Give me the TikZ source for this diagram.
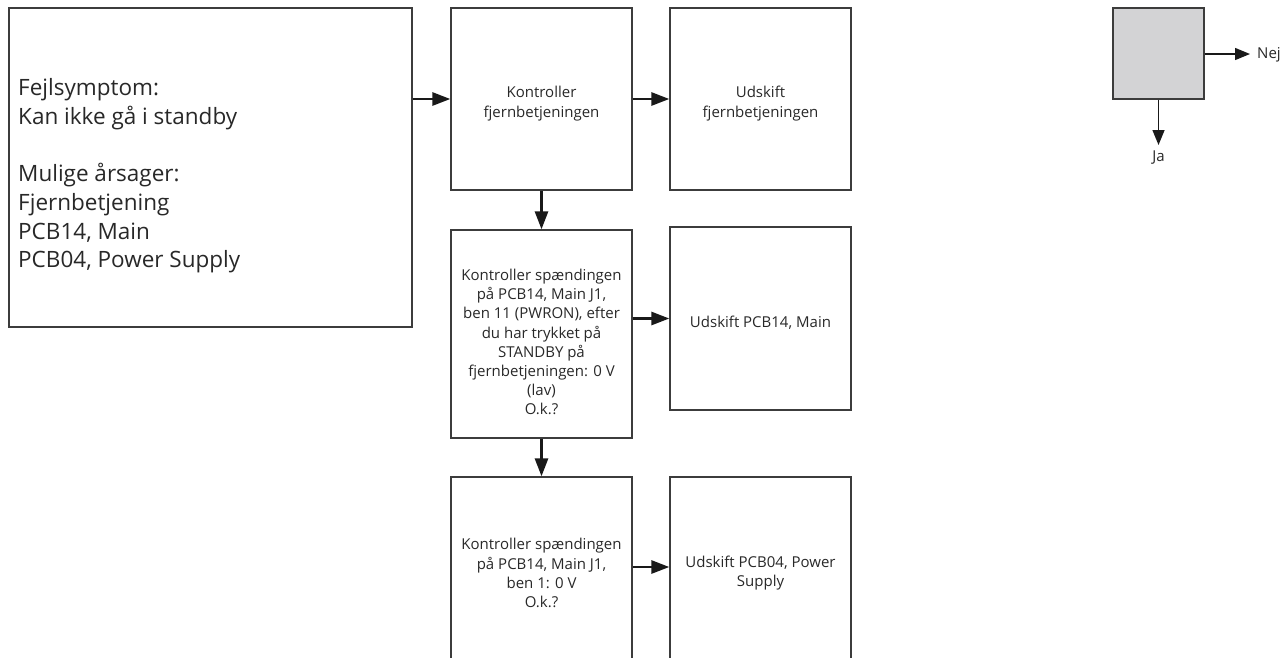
\documentclass[tikz,border=0pt]{standalone}
\usepackage{fontspec}
\setmainfont{Open Sans}
\usetikzlibrary{arrows.meta}
\definecolor{ink}{RGB}{40,40,40}
\definecolor{frame}{RGB}{60,60,60}
\definecolor{legendgray}{RGB}{211,211,213}
\tikzset{
  box/.style={draw=frame, line width=1.3pt, rectangle, inner sep=0pt},
  boxtext/.style={align=center, text=ink, inner sep=0pt, font=\fontsize{15}{19.2}\selectfont},
  flow/.style={draw=black!90, line width=2.8pt, -{Triangle[length=18pt,width=13pt]}},
  legarrow/.style={draw=black!90, line width=1.4pt, -{Triangle[length=15pt,width=12pt]}},
  lbl/.style={text=ink, font=\fontsize{15}{19.2}\selectfont, inner sep=0pt},
}
\begin{document}
\begin{tikzpicture}[x=1pt,y=-1pt]
\useasboundingbox (0,0) rectangle (1281,657);
% main boxes
\node[box, minimum width=403pt, minimum height=319pt] (a) at (210.5,167.5) {};
\node[anchor=west, align=left, text=ink, inner sep=0pt, font=\fontsize{22.5}{28.7}\selectfont] (at) at (18,176)
  {Fejlsymptom:\\Kan ikke gå i standby\\[28.7pt]Mulige årsager:\\Fjernbetjening\\PCB14, Main\\PCB04, Power Supply};
\node[box, minimum width=181pt, minimum height=182pt] (b) at (541.5,99) {};
\node[boxtext, yshift=-4.5pt] (bt) at (b.center) {Kontroller\\fjernbetjeningen};
\node[box, minimum width=181pt, minimum height=182pt] (c) at (760.5,99) {};
\node[boxtext, yshift=-4.5pt] (ct) at (c.center) {Udskift\\fjernbetjeningen};
\node[box, minimum width=181pt, minimum height=208pt] (d) at (541.5,334) {};
\node[boxtext, yshift=-8pt] (dt) at (d.center)
  {Kontroller spændingen\\på PCB14, Main J1,\\ben 11 (PWRON), efter\\du har trykket på\\STANDBY på\\fjernbetjeningen: 0 V\\(lav)\\O.k.?};
\node[box, minimum width=181pt, minimum height=183pt] (e) at (760.5,318.5) {};
\node[boxtext, yshift=-4.5pt] (et) at (e.center) {Udskift PCB14, Main};
\node[box, minimum width=181pt, minimum height=184pt] (f) at (541.5,569) {};
\node[boxtext, yshift=-4pt] (ft) at (f.center)
  {Kontroller spændingen\\på PCB14, Main J1,\\ben 1: 0 V\\O.k.?};
\node[box, minimum width=181pt, minimum height=184pt] (g) at (760.5,569) {};
\node[boxtext, yshift=-4pt] (gt) at (g.center) {Udskift PCB04, Power\\Supply};
% connectors
\draw[flow] (a.east |- b.west) -- (b.west);
\draw[flow] (b.east) -- (c.west);
\draw[flow] (b.south) -- (d.north);
\draw[flow] (d.east |- e.west) -- (e.west);
\draw[flow] (d.south) -- (f.north);
\draw[flow] (f.east |- 0,567) -- (g.west |- 0,567);
% legend
\node[box, fill=legendgray, minimum width=91pt, minimum height=91pt] (l) at (1158.5,53.5) {};
\coordinate (nejend) at (1250,54);
\coordinate (jaend) at (1158.5,145);
\draw[legarrow] (l.east |- nejend) -- (nejend);
\draw[legarrow] (l.south) -- (jaend);
\node[lbl, anchor=west] (nej) at (1257,55) {Nej};
\node[lbl, anchor=north] (ja) at (1158.5,151) {Ja};
\end{tikzpicture}
\end{document}
